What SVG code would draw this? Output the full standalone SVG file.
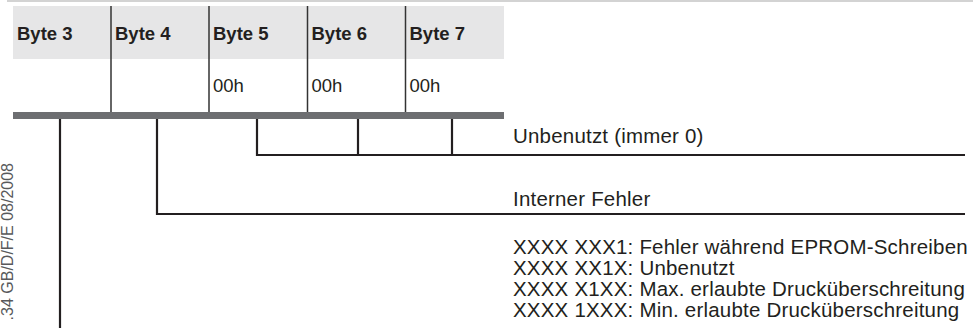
<svg xmlns="http://www.w3.org/2000/svg" width="973" height="328" viewBox="0 0 973 328">
<style>
.hdr{font-family:"Liberation Sans",Arial,sans-serif;font-weight:bold;font-size:18.5px;fill:#231f20}
.val{font-family:"Liberation Sans",Arial,sans-serif;font-size:18.5px;fill:#231f20}
.lbl{font-family:"Liberation Sans",Arial,sans-serif;font-size:20.5px;letter-spacing:0.2px;fill:#231f20}
.side{font-family:"Liberation Sans",Arial,sans-serif;font-size:16px;fill:#58595b}
.cell{stroke:#333;stroke-width:1.5;fill:none}
.conn{stroke:#231f20;stroke-width:2.2;fill:none}
</style>
<rect width="973" height="328" fill="#fff"/>
<line x1="7" y1="1" x2="973" y2="1" stroke="#c4c4c4" stroke-width="1.5"/>
<text class="side" transform="translate(13,163) rotate(-90)" text-anchor="end">.34 GB/D/F/E 08/2008</text>
<g id="table">
<rect x="13" y="6" width="491" height="53" fill="#e6e6e7"/>
<line class="cell" x1="111" y1="6" x2="111" y2="112"/>
<line class="cell" x1="209" y1="6" x2="209" y2="112"/>
<line class="cell" x1="307.5" y1="6" x2="307.5" y2="112"/>
<line class="cell" x1="405.5" y1="6" x2="405.5" y2="112"/>
<rect x="13" y="112" width="491" height="7" fill="#6d6e71"/>
</g>
<g id="byte3"><text class="hdr" x="17" y="40">Byte 3</text></g>
<g id="byte4"><text class="hdr" x="115" y="40">Byte 4</text></g>
<g id="byte5"><text class="hdr" x="213" y="40">Byte 5</text><text class="val" x="213" y="92">00h</text></g>
<g id="byte6"><text class="hdr" x="311.5" y="40">Byte 6</text><text class="val" x="311.5" y="92">00h</text></g>
<g id="byte7"><text class="hdr" x="409.5" y="40">Byte 7</text><text class="val" x="409.5" y="92">00h</text></g>
<g id="connectors">
<line class="conn" x1="60" y1="119" x2="60" y2="328"/>
<polyline class="conn" points="157,119 157,214 965,214"/>
<polyline class="conn" points="257,119 257,155 965,155"/>
<line class="conn" x1="358" y1="119" x2="358" y2="155"/>
<line class="conn" x1="452" y1="119" x2="452" y2="155"/>
</g>
<g id="label-unused"><text class="lbl" x="513" y="143">Unbenutzt (immer 0)</text></g>
<g id="label-internal"><text class="lbl" x="513" y="206">Interner Fehler</text></g>
<g id="label-bits">
<text class="lbl" x="513" y="254">XXXX XXX1: Fehler während EPROM-Schreiben</text>
<text class="lbl" x="513" y="275">XXXX XX1X: Unbenutzt</text>
<text class="lbl" x="513" y="296">XXXX X1XX: Max. erlaubte Drucküberschreitung</text>
<text class="lbl" x="513" y="317">XXXX 1XXX: Min. erlaubte Drucküberschreitung</text>
</g>
</svg>
